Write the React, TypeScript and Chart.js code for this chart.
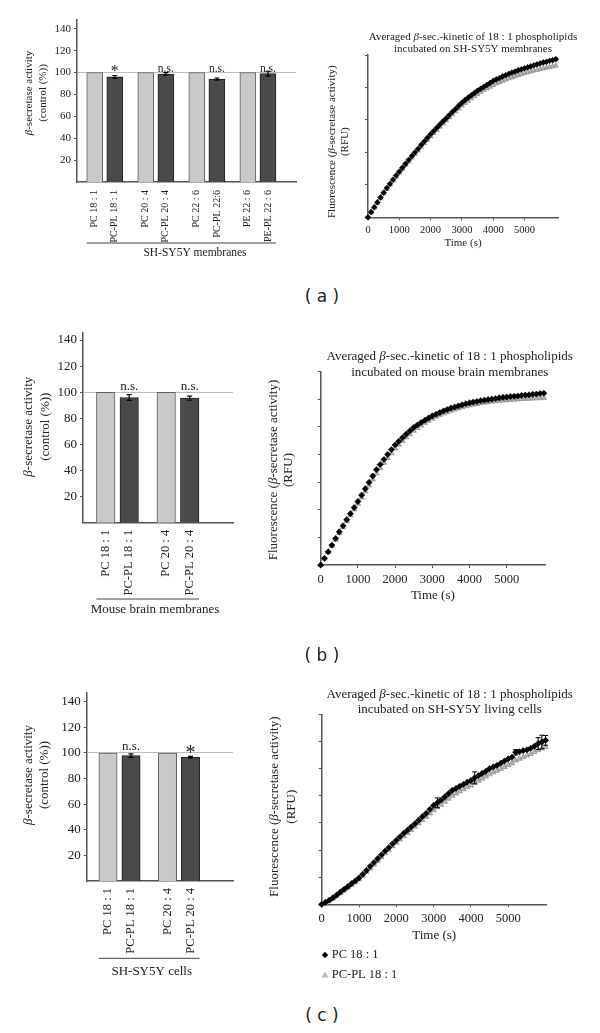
import React, { useEffect, useRef } from "react";
import { Chart, registerables } from "chart.js";

Chart.register(...registerables);

const SERIF = '"Liberation Serif", "Times New Roman", serif';
const SANS = '"DejaVu Sans", sans-serif';
const INK = "#222";
const AXIS = "#555";
const LIGHT = "#c9c9c9";
const LIGHT_EDGE = "#5f5f5f";
const DARK = "#4a4a4a";
const DARK_EDGE = "#1f1f1f";

// ------------------------------------------------------------------ data
const barYTicks = [20, 40, 60, 80, 100, 120, 140];
const barYTitle = ["β-secretase activity", "(control (%))"];

const barALabels = ["PC 18 : 1", "PC-PL 18 : 1", "PC 20 : 4", "PC-PL 20 : 4", "PC 22 : 6", "PC-PL 22:6", "PE 22 : 6", "PE-PL 22 : 6"];
const barAValues = [100, 96.0, 100, 98.6, 100, 94.0, 100, 99.0];
const barAErrors = [0, 1.3, 0, 1.3, 0, 1.0, 0, 2.2];
const barAMarks = ["", "*", "", "n.s.", "", "n.s.", "", "n.s."];
const barAGroup = "SH-SY5Y membranes";

const barBLabels = ["PC 18 : 1", "PC-PL 18 : 1", "PC 20 : 4", "PC-PL 20 : 4"];
const barBValues = [100, 96.0, 100, 95.5];
const barBErrors = [0, 2.2, 0, 1.6];
const barBMarks = ["", "n.s.", "", "n.s."];
const barBGroup = "Mouse brain membranes";

const barCLabels = ["PC 18 : 1", "PC-PL 18 : 1", "PC 20 : 4", "PC-PL 20 : 4"];
const barCValues = [100, 97.9, 100, 96.6];
const barCErrors = [0, 1.4, 0, 0.7];
const barCMarks = ["", "n.s.", "", "*"];
const barCGroup = "SH-SY5Y cells";

const kinYTitle = ["Fluorescence (β-secretase activity)", "(RFU)"];
const kinXTitle = "Time (s)";
const seriesNames = ["PC 18 : 1", "PC-PL 18 : 1"];
const kinTitleA = ["Averaged β-sec.-kinetic of 18 : 1 phospholipids", "incubated on SH-SY5Y membranes"];
const kinTitleB = ["Averaged β-sec.-kinetic of 18 : 1 phospholipids", "incubated on mouse brain membranes"];
const kinTitleC = ["Averaged β-sec.-kinetic of 18 : 1 phospholipids", "incubated on SH-SY5Y living cells"];
const kinXTicks = [0, 1000, 2000, 3000, 4000, 5000];
const kinAYTicks = [0, 1, 2, 3, 4, 5];
const kinBCYTicks = [0, 1, 2, 3, 4, 5, 6, 7];

const kinTimes = [
  0, 100, 200, 300, 400, 500, 600, 700, 800, 900, 1000, 1100, 1200, 1300, 1400, 1500, 1600, 1700, 1800, 1900,
  2000, 2100, 2200, 2300, 2400, 2500, 2600, 2700, 2800, 2900, 3000, 3100, 3200, 3300, 3400, 3500, 3600, 3700, 3800, 3900,
  4000, 4100, 4200, 4300, 4400, 4500, 4600, 4700, 4800, 4900, 5000, 5100, 5200, 5300, 5400, 5500, 5600, 5700, 5800, 5900, 6000,
];

const kinAPC = [
  0, 0.16, 0.31, 0.46, 0.61, 0.76, 0.9, 1.03, 1.16, 1.29, 1.41, 1.53, 1.65, 1.77, 1.89, 2.0, 2.11, 2.23, 2.34, 2.45,
  2.56, 2.66, 2.76, 2.86, 2.96, 3.05, 3.15, 3.25, 3.34, 3.44, 3.53, 3.61, 3.69, 3.76, 3.83, 3.9, 3.96, 4.02, 4.08, 4.14,
  4.2, 4.25, 4.29, 4.34, 4.38, 4.42, 4.46, 4.49, 4.53, 4.56, 4.59, 4.62, 4.65, 4.68, 4.71, 4.74, 4.77, 4.79, 4.82, 4.84, 4.87,
];
const kinAPL = [
  0, 0.15, 0.3, 0.45, 0.59, 0.73, 0.87, 1.0, 1.13, 1.25, 1.37, 1.49, 1.61, 1.72, 1.84, 1.95, 2.06, 2.17, 2.28, 2.39,
  2.49, 2.59, 2.69, 2.79, 2.89, 2.98, 3.08, 3.17, 3.26, 3.35, 3.44, 3.52, 3.59, 3.66, 3.73, 3.8, 3.86, 3.92, 3.97, 4.02,
  4.07, 4.12, 4.16, 4.2, 4.24, 4.28, 4.31, 4.35, 4.38, 4.41, 4.44, 4.47, 4.49, 4.52, 4.54, 4.57, 4.59, 4.61, 4.63, 4.65, 4.67,
];
const kinBPC = [
  0, 0.24, 0.48, 0.72, 0.96, 1.2, 1.42, 1.64, 1.86, 2.08, 2.3, 2.53, 2.76, 2.99, 3.22, 3.45, 3.64, 3.82, 4.0, 4.18,
  4.35, 4.48, 4.61, 4.74, 4.86, 4.98, 5.07, 5.16, 5.24, 5.32, 5.4, 5.46, 5.52, 5.58, 5.63, 5.68, 5.72, 5.76, 5.8, 5.84,
  5.87, 5.9, 5.92, 5.95, 5.97, 5.99, 6.01, 6.03, 6.05, 6.07, 6.08, 6.1, 6.11, 6.12, 6.14, 6.15, 6.16, 6.18, 6.19, 6.21, 6.22,
];
const kinBPL = [
  0, 0.23, 0.46, 0.69, 0.92, 1.15, 1.37, 1.59, 1.8, 2.01, 2.22, 2.44, 2.66, 2.88, 3.1, 3.32, 3.51, 3.7, 3.88, 4.05,
  4.22, 4.36, 4.49, 4.62, 4.74, 4.86, 4.96, 5.05, 5.14, 5.22, 5.3, 5.37, 5.43, 5.49, 5.54, 5.59, 5.63, 5.67, 5.71, 5.75,
  5.78, 5.81, 5.83, 5.86, 5.88, 5.9, 5.92, 5.93, 5.95, 5.96, 5.97, 5.98, 5.99, 6.0, 6.01, 6.02, 6.02, 6.03, 6.04, 6.04, 6.05,
];
const kinCPC = [
  0, 0.07, 0.15, 0.24, 0.34, 0.45, 0.55, 0.65, 0.76, 0.86, 0.97, 1.11, 1.25, 1.4, 1.54, 1.68, 1.82, 1.96, 2.09, 2.23,
  2.36, 2.49, 2.62, 2.73, 2.85, 2.97, 3.1, 3.23, 3.35, 3.5, 3.64, 3.74, 3.84, 3.96, 4.08, 4.2, 4.27, 4.35, 4.42, 4.5,
  4.56, 4.66, 4.74, 4.82, 4.9, 5.0, 5.06, 5.12, 5.2, 5.28, 5.36, 5.42, 5.6, 5.62, 5.66, 5.69, 5.75, 5.82, 5.92, 5.98, 6.04,
];
const kinCPL = [
  0, 0.06, 0.14, 0.22, 0.32, 0.42, 0.52, 0.62, 0.72, 0.82, 0.92, 1.05, 1.19, 1.33, 1.47, 1.61, 1.74, 1.88, 2.01, 2.14,
  2.27, 2.39, 2.51, 2.62, 2.74, 2.86, 2.98, 3.1, 3.22, 3.35, 3.47, 3.57, 3.67, 3.78, 3.89, 4.0, 4.08, 4.16, 4.24, 4.32,
  4.38, 4.47, 4.55, 4.63, 4.71, 4.79, 4.86, 4.92, 4.99, 5.06, 5.13, 5.2, 5.3, 5.36, 5.42, 5.48, 5.54, 5.61, 5.68, 5.74, 5.79,
];
const kinCErrTimes = [3100, 4100, 5200, 5800, 5900, 6000];
const kinCErrPC = [0.18, 0.22, 0.1, 0.22, 0.25, 0.18];

const panelLabels = ["( a )", "( b )", "( c )"];

// ------------------------------------------------------------------ layout
const barALayout = {
  box: [0, 0, 300, 270], left: 77, top: 20, right: 4, xH: 88, xMax: 219, yMax: 148,
  first: 17.7, groupGap: 51.05, pairGap: 20.1, barW: 16,
  tickSize: 11, labelSize: 10, labelPad: 8,
  starSize: 16, starDy: 3.5, nsSize: 11.5, nsDy: -1,
  lineY: 243, groupX: 195, groupY: 253, groupSize: 11.5,
  yt1X: 29.3, yt2X: 42.7, ytY: 93, ytSize: 11,
};
const barBLayout = {
  box: [0, 310, 250, 320], left: 83, top: 23, right: 17, xH: 107.2, xMax: 150, yMax: 145.4,
  first: 22.7, groupGap: 60.5, pairGap: 23.5, barW: 18.5,
  tickSize: 13, labelSize: 12.5, labelPad: 7,
  starSize: 18, starDy: 5, nsSize: 13, nsDy: -2.3,
  lineY: 289, groupX: 155, groupY: 300, groupSize: 13,
  yt1X: 28.3, yt2X: 46, ytY: 116.7, ytSize: 13,
};
const barCLayout = {
  box: [0, 670, 250, 320], left: 86.7, top: 22.3, right: 17, xH: 109, xMax: 146.3, yMax: 147.4,
  first: 21.3, groupGap: 59.5, pairGap: 23, barW: 18.3,
  tickSize: 13, labelSize: 12.5, labelPad: 7,
  starSize: 20, starDy: 6, nsSize: 13, nsDy: -2.6,
  lineY: 288.3, groupX: 151.7, groupY: 301.7, groupSize: 13,
  yt1X: 28.3, yt2X: 45, ytY: 105, ytSize: 13,
};
const kinALayout = {
  box: [300, 20, 300, 240], left: 68, top: 35, right: 42, bottom: 0, xH: 42.7, xMax: 6070, yMax: 5,
  tickSize: 10.5, xTitleSize: 11, xTitlePad: 10.7, pointR: 2.9,
  titleX: 173, titleY: [16.7, 29.3], titleSize: 11,
  yt1X: 31.7, yt2X: 45, ytY: 121.7, ytSize: 11, legend: false,
};
const kinBLayout = {
  box: [250, 330, 350, 280], left: 70.7, top: 41.7, right: 55, bottom: 0, xH: 45, xMax: 6030, yMax: 7,
  tickSize: 12.5, xTitleSize: 13, xTitlePad: 6.5, pointR: 3.1,
  titleX: 199.7, titleY: [26.7, 42.7], titleSize: 13,
  yt1X: 23.3, yt2X: 38.3, ytY: 140, ytSize: 13, legend: false,
};
const kinCLayout = {
  box: [250, 665, 350, 330], left: 71.7, top: 49.3, right: 53.3, bottom: 50, xH: 40.7, xMax: 6030, yMax: 7,
  tickSize: 12.5, xTitleSize: 13, xTitlePad: 1.2, pointR: 3.1,
  titleX: 199.7, titleY: [30, 44.3], titleSize: 13,
  yt1X: 25, yt2X: 41.7, ytY: 141.7, ytSize: 13,
  legend: true, legendX: 75, legendTextX: 81.7, legendY: [290, 310], legendSize: 12.5,
};
const panelLabelY = [296, 655, 1015];
const panelLabelX = 322;

// ------------------------------------------------------------------ helpers
function segs(s: string): [string, boolean][] {
  const out: [string, boolean][] = [];
  s.split(/(β)/).forEach((p) => {
    if (p) out.push([p, p === "β"]);
  });
  return out;
}

function drawRich(ctx: CanvasRenderingContext2D, text: string, x: number, y: number, size: number, align: string, rot = 0) {
  const parts = segs(text);
  ctx.save();
  ctx.translate(x, y);
  ctx.rotate(rot);
  ctx.textBaseline = "middle";
  ctx.textAlign = "left";
  ctx.fillStyle = INK;
  const fonts = parts.map(([, it]) => `${it ? "italic " : ""}${size}px ${SERIF}`);
  let total = 0;
  const widths = parts.map(([t], i) => {
    ctx.font = fonts[i];
    const w = ctx.measureText(t).width;
    total += w;
    return w;
  });
  let cx = align === "center" ? -total / 2 : 0;
  parts.forEach(([t], i) => {
    ctx.font = fonts[i];
    ctx.fillText(t, cx, 0);
    cx += widths[i];
  });
  ctx.restore();
}

function errorBar(ctx: CanvasRenderingContext2D, x: number, y1: number, y2: number, cap: number) {
  ctx.beginPath();
  ctx.moveTo(x, y1);
  ctx.lineTo(x, y2);
  ctx.moveTo(x - cap, y1);
  ctx.lineTo(x + cap, y1);
  ctx.moveTo(x - cap, y2);
  ctx.lineTo(x + cap, y2);
  ctx.stroke();
}

function barConfig(labels: string[], values: number[], errors: number[], marks: string[], group: string, L: any): any {
  const pos = values.map((_, i) => L.first + Math.floor(i / 2) * L.groupGap + (i % 2) * L.pairGap);
  const overlay = {
    id: "barOverlay",
    afterDraw(chart: any) {
      const { ctx } = chart;
      const x = chart.scales.x;
      const y = chart.scales.y;
      ctx.save();
      ctx.strokeStyle = "#000";
      ctx.lineWidth = 1.2;
      values.forEach((v, i) => {
        const e = errors[i];
        if (!e) return;
        errorBar(ctx, x.getPixelForValue(pos[i]), y.getPixelForValue(v + e), y.getPixelForValue(v - e), 2.5);
      });
      const y100 = y.getPixelForValue(100);
      ctx.fillStyle = INK;
      ctx.textAlign = "center";
      ctx.textBaseline = "alphabetic";
      marks.forEach((m, i) => {
        if (!m) return;
        const px = x.getPixelForValue(pos[i]);
        if (m === "*") {
          ctx.font = `${L.starSize}px ${SERIF}`;
          ctx.fillText(m, px, y100 + L.starDy);
        } else {
          ctx.font = `${L.nsSize}px ${SERIF}`;
          ctx.fillText(m, px, y100 + L.nsDy);
        }
      });
      const x0 = x.getPixelForValue(pos[0]) - L.barW / 2;
      const x1 = x.getPixelForValue(pos[pos.length - 1]) + L.barW / 2;
      ctx.strokeStyle = "#444";
      ctx.lineWidth = 1;
      ctx.beginPath();
      ctx.moveTo(x0, L.lineY);
      ctx.lineTo(x1, L.lineY);
      ctx.stroke();
      ctx.font = `${L.groupSize}px ${SERIF}`;
      ctx.textBaseline = "middle";
      ctx.fillText(group, L.groupX, L.groupY);
      drawRich(ctx, barYTitle[0], L.yt1X, L.ytY, L.ytSize, "center", -Math.PI / 2);
      drawRich(ctx, barYTitle[1], L.yt2X, L.ytY, L.ytSize, "center", -Math.PI / 2);
      ctx.restore();
    },
  };
  return {
    type: "bar",
    data: {
      datasets: [
        {
          data: values.map((v, i) => ({ x: pos[i], y: v })),
          backgroundColor: values.map((_, i) => (i % 2 ? DARK : LIGHT)),
          borderColor: values.map((_, i) => (i % 2 ? DARK_EDGE : LIGHT_EDGE)),
          borderWidth: 1,
          barThickness: L.barW,
        },
      ],
    },
    options: {
      responsive: false,
      animation: false,
      devicePixelRatio: 1,
      events: [],
      layout: { padding: { left: 0, top: L.top, right: L.right, bottom: 0 } },
      plugins: { legend: { display: false }, tooltip: { enabled: false } },
      scales: {
        x: {
          type: "linear",
          min: 0,
          max: L.xMax,
          offset: false,
          grid: { display: false, drawTicks: false, offset: false },
          border: { display: true, color: AXIS, width: 1.5 },
          afterBuildTicks: (s: any) => {
            s.ticks = pos.map((v) => ({ value: v }));
          },
          afterFit: (s: any) => {
            s.height = L.xH;
            s.paddingLeft = 0;
            s.paddingRight = 0;
          },
          ticks: {
            autoSkip: false,
            minRotation: 90,
            maxRotation: 90,
            padding: L.labelPad,
            color: INK,
            font: { family: SERIF, size: L.labelSize },
            callback: (_v: any, i: number) => labels[i],
          },
        },
        y: {
          min: 0,
          max: L.yMax,
          afterBuildTicks: (s: any) => {
            s.ticks = barYTicks.map((v) => ({ value: v }));
          },
          afterFit: (s: any) => {
            s.width = L.left;
            s.paddingTop = 0;
            s.paddingBottom = 0;
          },
          grid: {
            drawOnChartArea: true,
            color: (c: any) => (c.tick && c.tick.value === 100 ? "#bdbdbd" : "rgba(0,0,0,0)"),
            tickColor: AXIS,
            tickLength: 3,
            lineWidth: 1,
          },
          border: { display: true, color: AXIS, width: 1.5 },
          ticks: { padding: 3, color: INK, font: { family: SERIF, size: L.tickSize }, callback: (v: any) => String(v) },
        },
      },
    },
    plugins: [overlay],
  };
}

function kinConfig(pc: number[], pl: number[], title: string[], yTicks: number[], L: any, err?: any): any {
  const overlay = {
    id: "kinOverlay",
    afterDraw(chart: any) {
      const { ctx } = chart;
      const x = chart.scales.x;
      const y = chart.scales.y;
      ctx.save();
      title.forEach((t, i) => drawRich(ctx, t, L.titleX, L.titleY[i], L.titleSize, "center"));
      drawRich(ctx, kinYTitle[0], L.yt1X, L.ytY, L.ytSize, "center", -Math.PI / 2);
      drawRich(ctx, kinYTitle[1], L.yt2X, L.ytY, L.ytSize, "center", -Math.PI / 2);
      if (err) {
        ctx.strokeStyle = "#000";
        ctx.lineWidth = 1;
        err.times.forEach((t: number, k: number) => {
          const idx = kinTimes.indexOf(t);
          if (idx < 0) return;
          const v = pc[idx];
          errorBar(ctx, x.getPixelForValue(t), y.getPixelForValue(v + err.pc[k]), y.getPixelForValue(v - err.pc[k]), 2.5);
        });
      }
      if (L.legend) {
        const ds = chart.data.datasets;
        ctx.font = `${L.legendSize}px ${SERIF}`;
        ctx.textAlign = "left";
        ctx.textBaseline = "middle";
        let yy = L.legendY[0];
        ctx.fillStyle = "#000";
        ctx.beginPath();
        ctx.moveTo(L.legendX, yy - 3.2);
        ctx.lineTo(L.legendX + 3.2, yy);
        ctx.lineTo(L.legendX, yy + 3.2);
        ctx.lineTo(L.legendX - 3.2, yy);
        ctx.closePath();
        ctx.fill();
        ctx.fillStyle = INK;
        ctx.fillText(ds[0].label, L.legendTextX, yy);
        yy = L.legendY[1];
        ctx.fillStyle = "#bdbdbd";
        ctx.beginPath();
        ctx.moveTo(L.legendX, yy - 3.6);
        ctx.lineTo(L.legendX + 3.6, yy + 2.6);
        ctx.lineTo(L.legendX - 3.6, yy + 2.6);
        ctx.closePath();
        ctx.fill();
        ctx.fillStyle = INK;
        ctx.fillText(ds[1].label, L.legendTextX, yy);
      }
      ctx.restore();
    },
  };
  return {
    type: "scatter",
    data: {
      datasets: [
        {
          label: seriesNames[0],
          data: kinTimes.map((t, i) => ({ x: t, y: pc[i] })),
          pointStyle: "rectRot",
          pointRadius: L.pointR,
          backgroundColor: "#000",
          borderColor: "#000",
          borderWidth: 0.6,
          order: 0,
          clip: false,
        },
        {
          label: seriesNames[1],
          data: kinTimes.map((t, i) => ({ x: t, y: pl[i] })),
          pointStyle: "triangle",
          pointRadius: L.pointR,
          backgroundColor: "#b8b8b8",
          borderColor: "#7d7d7d",
          borderWidth: 0.6,
          order: 1,
          clip: false,
        },
      ],
    },
    options: {
      responsive: false,
      animation: false,
      devicePixelRatio: 1,
      events: [],
      layout: { padding: { left: 0, top: L.top, right: L.right, bottom: L.bottom } },
      plugins: { legend: { display: false }, tooltip: { enabled: false } },
      scales: {
        x: {
          type: "linear",
          min: 0,
          max: L.xMax,
          afterBuildTicks: (s: any) => {
            s.ticks = kinXTicks.map((v) => ({ value: v }));
          },
          afterFit: (s: any) => {
            s.height = L.xH;
            s.paddingLeft = 0;
            s.paddingRight = 0;
          },
          grid: { drawOnChartArea: false, drawTicks: true, tickLength: 3, tickColor: AXIS },
          border: { display: true, color: AXIS, width: 1.5 },
          ticks: {
            padding: 4,
            color: INK,
            maxRotation: 0,
            autoSkip: false,
            font: { family: SERIF, size: L.tickSize },
            callback: (v: any) => String(v),
          },
          title: {
            display: true,
            text: kinXTitle,
            color: INK,
            font: { family: SERIF, size: L.xTitleSize },
            padding: { top: 0, bottom: L.xTitlePad },
          },
        },
        y: {
          min: 0,
          max: L.yMax,
          afterBuildTicks: (s: any) => {
            s.ticks = yTicks.map((v) => ({ value: v }));
          },
          afterFit: (s: any) => {
            s.width = L.left;
            s.paddingTop = 0;
            s.paddingBottom = 0;
          },
          grid: { drawOnChartArea: false, drawTicks: true, tickLength: 3, tickColor: AXIS },
          border: { display: true, color: AXIS, width: 1.5 },
          ticks: { display: false },
        },
      },
    },
    plugins: [overlay],
  };
}

function ChartBox({ L, make }: { L: any; make: () => any }) {
  const ref = useRef<HTMLCanvasElement>(null);
  useEffect(() => {
    const chart = new Chart(ref.current as HTMLCanvasElement, make());
    return () => chart.destroy();
  }, []);
  const [left, top, width, height] = L.box;
  return <canvas ref={ref} width={width} height={height} style={{ position: "absolute", left, top, width, height }} />;
}

export default function App() {
  return (
    <div style={{ position: "absolute", left: 0, top: 0, width: 600, height: 1033, background: "#fff", overflow: "hidden" }}>
      <ChartBox L={barALayout} make={() => barConfig(barALabels, barAValues, barAErrors, barAMarks, barAGroup, barALayout)} />
      <ChartBox L={kinALayout} make={() => kinConfig(kinAPC, kinAPL, kinTitleA, kinAYTicks, kinALayout)} />
      <ChartBox L={barBLayout} make={() => barConfig(barBLabels, barBValues, barBErrors, barBMarks, barBGroup, barBLayout)} />
      <ChartBox L={kinBLayout} make={() => kinConfig(kinBPC, kinBPL, kinTitleB, kinBCYTicks, kinBLayout)} />
      <ChartBox L={barCLayout} make={() => barConfig(barCLabels, barCValues, barCErrors, barCMarks, barCGroup, barCLayout)} />
      <ChartBox
        L={kinCLayout}
        make={() => kinConfig(kinCPC, kinCPL, kinTitleC, kinBCYTicks, kinCLayout, { times: kinCErrTimes, pc: kinCErrPC })}
      />
      {panelLabels.map((t, i) => (
        <div
          key={i}
          style={{
            position: "absolute",
            left: panelLabelX - 40,
            top: panelLabelY[i] - 11,
            width: 80,
            textAlign: "center",
            font: `17px ${SANS}`,
            lineHeight: "22px",
            color: INK,
            whiteSpace: "pre",
          }}
        >
          {t}
        </div>
      ))}
    </div>
  );
}
